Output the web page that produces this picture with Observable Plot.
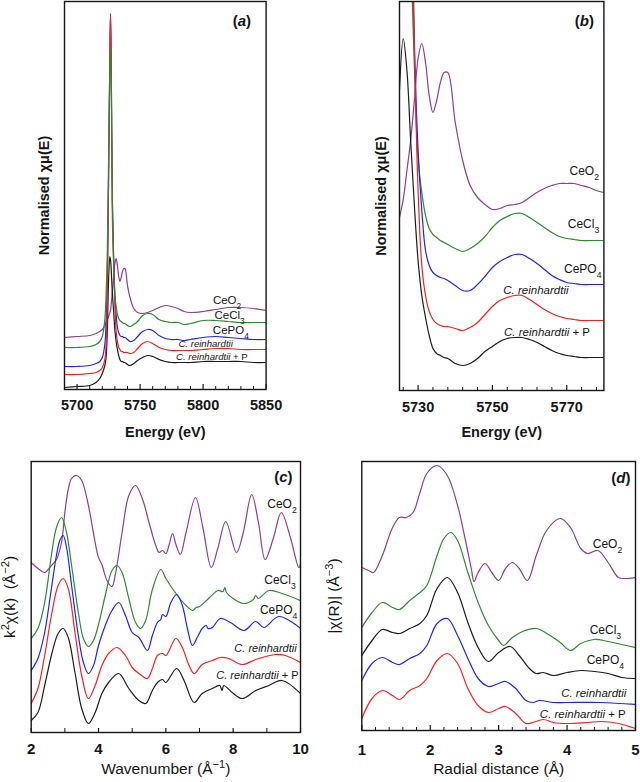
<!DOCTYPE html>
<html><head><meta charset="utf-8">
<script src="https://cdn.jsdelivr.net/npm/d3@7"></script>
<script src="https://cdn.jsdelivr.net/npm/@observablehq/plot@0.6"></script>
<style>
body{margin:0;background:#fff;}
#wrap{position:relative;width:640px;height:782px;overflow:hidden;background:#fff;}
</style></head><body><div id="wrap"></div>
<script>
// ---------- Panel (a): XANES, full range (arbitrary offset units) ----------
const energyA = [5690,5700,5710,5715,5718,5720,5722,5723,5724,5725,5726,5726.5,5727,5728,5729,5730,5731,5732,5733,5734,5735,5736,5737,5738,5740,5742,5745,5748,5752,5756,5760,5765,5770,5775,5780,5785,5790,5800,5810,5820,5830,5840,5850];
const ceo2A  = [52,53,54,56,58,60,64,67,70,73,77,79,84,98,112,126,131,124,113,108,112,118,121,121,104,92,81,77,76,77,79,82,84,83,81,78,77,78,80,82,82,81,79];
const cecl3A = [42,42,43,45,48,53,70,95,140,235,320,342,322,170,125,94,83,75,71,69,68,67,66,66,64,63,65,68,74,76,75,70,68,67,67,65,66,69,69,68,67,67,67];
const cepo4A = [23,23,24,26,28,32,45,66,110,215,335,376,340,190,132,95,75,62,57,54,53,53,52,52,50,48,49,53,58,60,59,54,51,50,50,49,50,52,53,52,51,50,50];
const crA    = [15,15,16,17,19,22,30,45,95,210,335,374,340,185,130,83,58,48,42,40,38,38,37,37,37,36,37,41,46,48,46,42,40,39,39,39,39,40,41,41,40,40,40];
const crpA   = [2,3,4,7,11,16,24,32,60,110,133,130,122,96,78,59,48,40,34,30,28,28,27,27,25,24,26,29,32,34,33,30,28,27,27,27,27,28,28,28,28,27,27];

// ---------- Panel (b): XANES, zoomed ----------
const energyB = [5725,5726,5727,5728,5729,5730,5731,5732,5733,5734,5735,5736,5737,5738,5740,5742,5744,5746,5748,5750,5752,5754,5756,5758,5760,5762,5764,5766,5768,5770,5772,5774,5776,5778,5780];
const ceo2B  = [173,191,220,250,290,332,347,328,295,278,290,308,318,318,268,230,205,193,186,181,182,185,186,188,193,198,202,205,207,207,207,205,203,200,198];
const cecl3B = [654,909,915,459,325,232,198,175,162,156,153,150,148,146,142,139,142,147,154,163,170,174,177,177,173,168,163,158,154,152,151,150,150,150,150];
const cepo4B = [690,1005,1005,555,350,240,180,140,125,118,115,113,112,110,105,100,100,106,114,123,129,133,136,136,132,127,121,115,111,108,107,106,106,106,106];
const crB    = [582,957,972,507,340,200,125,95,79,71,67,65,64,64,62,60,63,68,76,84,90,93,95,95,91,86,81,77,74,72,71,70,70,70,70];
const crpB   = [300,352,320,250,185,130,95,73,55,42,37,35,33,32,27,25,27,32,39,44,49,52,53,53,51,48,44,40,37,35,34,33,33,33,33];

// ---------- Panel (c): k^2-weighted EXAFS ----------
const ceo2K   = [2.0,2.2,2.4,2.6,2.75,2.9,3.0,3.1,3.2,3.35,3.5,3.7,3.9,4.0,4.1,4.25,4.4,4.5,4.7,4.9,5.1,5.3,5.5,5.7,5.8,5.9,6.0,6.1,6.2,6.3,6.43,6.6,6.88,7.1,7.35,7.55,7.78,8.1,8.3,8.55,8.75,8.95,9.2,9.43,9.7,9.95,10];
const ceo2Chi = [170,164,160,167,173,190,220,243,254,257,252,227,190,175,168,152,146,158,200,237,247,234,210,187,180,182,179,188,199,188,178,200,235,205,165,185,211,180,200,238,210,173,195,220,195,165,168];
const cecl3K   = [2.0,2.2,2.4,2.6,2.75,2.9,3.05,3.2,3.4,3.55,3.7,3.85,4.0,4.2,4.4,4.55,4.7,4.9,5.1,5.25,5.4,5.6,5.85,6.0,6.3,6.6,6.8,6.9,7.0,7.3,7.55,7.7,7.75,7.8,8.0,8.3,8.6,8.67,8.75,9.06,9.45,10];
const cecl3Chi = [94,104,130,177,205,215,200,167,120,94,86,92,108,137,162,167,160,134,110,104,112,143,163,154,139,127,122,125,126,135,142,141,145,140,134,129,133,137,134,142,139,132];
const cepo4K   = [2.0,2.2,2.4,2.6,2.75,2.85,2.95,3.05,3.2,3.4,3.55,3.7,3.85,4.0,4.2,4.4,4.6,4.8,5.0,5.2,5.45,5.6,5.75,5.85,5.9,6.0,6.15,6.32,6.49,6.64,6.79,6.93,7.08,7.2,7.25,7.38,7.62,7.92,8.32,8.67,8.91,9.36,10];
const cepo4Chi = [62,74,100,144,177,192,197,185,147,97,70,59,67,87,107,122,130,117,100,95,82,97,110,113,118,116,130,138,127,104,87,95,104,107,104,105,114,110,102,111,105,116,104];
const crK   = [2.0,2.2,2.4,2.6,2.8,2.95,3.1,3.3,3.5,3.7,3.9,4.1,4.3,4.55,4.8,5.0,5.2,5.45,5.6,5.75,5.9,6.0,6.3,6.49,6.69,6.84,7.08,7.38,7.62,7.87,8.27,8.67,9.26,9.55,10];
const crChi = [29,44,77,117,147,154,144,100,57,34,47,67,79,85,77,65,59,54,64,77,79,77,94,85,67,59,68,72,75,74,68,73,78,77,70];
const crpK   = [2.0,2.2,2.4,2.6,2.8,2.95,3.1,3.3,3.5,3.7,3.9,4.1,4.3,4.6,4.9,5.2,5.4,5.6,5.75,5.9,6.0,6.32,6.54,6.84,7.08,7.38,7.6,7.67,7.72,7.97,8.27,8.67,9.06,9.45,10];
const crpChi = [12,20,47,77,99,104,95,60,24,9,20,39,50,59,44,32,29,42,50,53,50,64,52,30,39,44,47,42,47,40,34,42,47,52,39];

// ---------- Panel (d): Fourier transform magnitude ----------
const ceo2R   = [1.0,1.1,1.17,1.3,1.45,1.55,1.65,1.75,1.85,1.95,2.1,2.25,2.4,2.5,2.6,2.64,2.7,2.8,2.9,3.0,3.1,3.2,3.3,3.42,3.55,3.7,3.9,4.05,4.2,4.3,4.45,4.6,4.75,4.85,5.0];
const ceo2Mag = [163,160,158,175,203,213,213,218,238,257,265,255,225,195,162,149,158,167,158,150,162,168,162,150,175,200,212,203,182,177,180,168,153,152,153];
const cecl3R   = [1.0,1.15,1.3,1.45,1.55,1.7,1.85,1.95,2.1,2.2,2.3,2.4,2.55,2.7,2.85,3.0,3.07,3.2,3.35,3.55,3.75,3.9,4.05,4.2,4.4,4.6,4.8,5.0];
const cecl3Mag = [103,118,128,123,121,130,138,145,175,192,198,190,158,128,105,90,85,93,99,102,95,88,80,87,91,89,86,83];
const blackR   = [1.0,1.15,1.3,1.45,1.55,1.7,1.85,1.95,2.1,2.25,2.4,2.55,2.7,2.85,3.0,3.17,3.3,3.45,3.55,3.65,3.8,4.0,4.2,4.4,4.6,4.8,5.0];
const blackMag = [75,90,101,98,97,102,107,115,142,153,138,108,83,69,78,84,75,62,57,58,55,58,60,59,57,53,52];
const blueR   = [1.0,1.15,1.3,1.45,1.55,1.7,1.85,1.95,2.1,2.25,2.4,2.55,2.7,2.85,3.0,3.1,3.25,3.4,3.5,3.6,3.8,4.0,4.5,5.0];
const blueMag = [50,67,73,68,66,72,77,85,107,112,95,72,52,44,47,49,42,30,28,30,28,28,28,26];
const redR   = [1.0,1.15,1.3,1.45,1.55,1.7,1.85,1.95,2.1,2.25,2.4,2.55,2.7,2.85,3.0,3.1,3.25,3.4,3.5,3.65,3.8,4.0,4.3,4.5,4.75,5.0];
const redMag = [12,32,40,35,31,40,45,52,70,77,67,42,25,18,22,24,17,7,8,11,8,7,8,9,7,2];

// ---------- Labels and ticks ----------
const seriesNames = ["CeO_{2}", "CeCl_{3}", "CePO_{4}", "/{C. reinhardtii}", "/{C. reinhardtii} + P"];
const labelA_x = [5819, 5821, 5822, 5802, 5807], labelA_y = [86, 71, 56, 43, 30];
const labelB_x = [5774.7, 5774.5, 5774.3, 5761.7, 5764.7], labelB_y = [216, 163, 118, 97, 55];
const labelC_x = [9.45, 9.39, 9.35, 8.96, 8.72], labelC_y = [225, 149, 119, 81, 54];
const labelD_x = [4.59, 4.56, 4.56, 4.39, 4.23], labelD_y = [183, 97, 67, 34, 13];

const ticksA = [5700, 5750, 5800, 5850];
const minorA = [5710,5720,5730,5740,5760,5770,5780,5790,5810,5820,5830,5840];
const ticksB = [5730, 5750, 5770];
const minorB = [5726,5734,5738,5742,5746,5754,5758,5762,5766,5774,5778];
const ticksC = [2, 4, 6, 8, 10];
const minorC = [3, 5, 7, 9];
const ticksD = [1, 2, 3, 4, 5];
const minorD = [1.2,1.4,1.6,1.8,2.2,2.4,2.6,2.8,3.2,3.4,3.6,3.8,4.2,4.4,4.6,4.8];

const C = {purple: "#8b3d98", green: "#2f8a2f", blue: "#1f24f2", red: "#f2221e", black: "#1b1b1b"};
const INK = "#151515";
const FONT = "Arial, 'Liberation Sans', Helvetica, sans-serif";

function mk(xs, ys) { return xs.map((x, i) => ({x, y: ys[i]})); }

function rich(svg) {
  svg.querySelectorAll("text").forEach(t => {
    const s = t.textContent;
    if (!/[_^\/]\{/.test(s)) return;
    t.innerHTML = s.replace(/([_^\/])\{([^}]*)\}/g, (m, op, inner) => {
      if (op === "_") return `<tspan baseline-shift="sub" font-size="0.72em">${inner}</tspan>`;
      if (op === "^") return `<tspan baseline-shift="super" font-size="0.72em">${inner}</tspan>`;
      return `<tspan font-style="italic">${inner}</tspan>`;
    });
  });
}

const wrap = document.getElementById("wrap");

function panel(c) {
  const fh = c.height - c.mt - c.mb;
  const marks = [];
  marks.push(Plot.ruleX(c.minor, {stroke: INK, strokeWidth: 1, insetTop: fh - c.minorLen}));
  marks.push(Plot.ruleX(c.major, {stroke: INK, strokeWidth: 1.2, insetTop: fh - c.majorLen}));
  for (const s of c.series) {
    marks.push(Plot.line(mk(s.x, s.y), {x: "x", y: "y", stroke: s.color, strokeWidth: 1.2, curve: "catmull-rom", clip: true}));
  }
  marks.push(Plot.frame({stroke: INK, strokeWidth: 1.4}));
  const lab = c.labels.x.map((x, i) => ({x, y: c.labels.y[i], t: seriesNames[i], i}));
  marks.push(Plot.text(lab.filter(d => d.i < 3), {x: "x", y: "y", text: "t", textAnchor: "middle", fontSize: c.labelSize, fontWeight: "normal", fill: INK, lineAnchor: "bottom"}));
  marks.push(Plot.text(lab.filter(d => d.i >= 3), {x: "x", y: "y", text: "t", textAnchor: "middle", fontSize: c.italicSize, fontWeight: "normal", fill: INK, lineAnchor: "bottom"}));
  marks.push(Plot.text([c.tag], {text: d => d, frameAnchor: "top-right", textAnchor: "end", lineAnchor: "bottom", dx: c.tagDx, dy: c.tagDy, fontSize: 15, fontWeight: "bold", fill: INK}));
  marks.push(Plot.text([c.xLabel], {text: d => d, frameAnchor: "bottom", textAnchor: "middle", lineAnchor: "bottom", dy: c.xLabelDy, fontSize: c.xLabelSize, fontWeight: c.xLabelWeight, fill: INK}));
  marks.push(Plot.text([c.yLabel], {text: d => d, frameAnchor: "left", textAnchor: "middle", rotate: -90, lineAnchor: "bottom", dx: c.yLabelDx, fontSize: c.yLabelSize, fontWeight: c.yLabelWeight, fill: INK}));
  const svg = Plot.plot({
    width: c.width, height: c.height,
    marginLeft: c.ml, marginRight: c.mr, marginTop: c.mt, marginBottom: c.mb,
    x: {domain: c.xDomain, ticks: c.major, tickSize: 0, tickPadding: c.tickPad, tickFormat: d3.format("d"), label: null},
    y: {domain: c.yDomain, axis: null},
    style: {fontFamily: FONT, fontSize: c.tickFont + "px", fontWeight: "bold", color: INK, background: "transparent", position: "absolute", left: c.left + "px", top: c.top + "px", overflow: "visible"},
    marks
  });
  rich(svg);
  wrap.appendChild(svg);
}

panel({
  left: 0, top: 0, width: 320, height: 445, ml: 64, mr: 54.4, mt: 1, mb: 56,
  xDomain: [5690, 5850], yDomain: [0, 388],
  major: ticksA, minor: minorA, majorLen: 5, minorLen: 3, tickPad: 10, tickFont: 14.5,
  series: [
    {x: energyA, y: ceo2A, color: C.purple},
    {x: energyA, y: crpA, color: C.black},
    {x: energyA, y: cepo4A, color: C.blue},
    {x: energyA, y: crA, color: C.red},
    {x: energyA, y: cecl3A, color: C.green}
  ],
  labels: {x: labelA_x, y: labelA_y}, labelSize: 11.5, italicSize: 9.6,
  tag: "(/{a})", tagDx: -15, tagDy: 24,
  xLabel: "Energy (eV)", xLabelDy: 47, xLabelSize: 14.5, xLabelWeight: "bold",
  yLabel: "Normalised χμ(E)", yLabelDx: -15.3, yLabelSize: 14.5, yLabelWeight: "bold"
});

panel({
  left: 320, top: 0, width: 320, height: 445, ml: 79, mr: 36.6, mt: 1, mb: 55,
  xDomain: [5725, 5780], yDomain: [0, 389],
  major: ticksB, minor: minorB, majorLen: 5, minorLen: 3, tickPad: 11, tickFont: 14.5,
  series: [
    {x: energyB, y: ceo2B, color: C.purple},
    {x: energyB, y: crpB, color: C.black},
    {x: energyB, y: cecl3B, color: C.green},
    {x: energyB, y: cepo4B, color: C.blue},
    {x: energyB, y: crB, color: C.red}
  ],
  labels: {x: labelB_x, y: labelB_y}, labelSize: 12, italicSize: 11.5,
  tag: "(/{b})", tagDx: -10, tagDy: 24,
  xLabel: "Energy (eV)", xLabelDy: 46, xLabelSize: 14.5, xLabelWeight: "bold",
  yLabel: "Normalised χμ(E)", yLabelDx: -13.5, yLabelSize: 14.5, yLabelWeight: "bold"
});

panel({
  left: 0, top: 445, width: 320, height: 337, ml: 30.7, mr: 20, mt: 16, mb: 50,
  xDomain: [2, 10], yDomain: [0, 271],
  major: ticksC, minor: minorC, majorLen: 4, minorLen: 4, tickPad: 11, tickFont: 15,
  series: [
    {x: ceo2K, y: ceo2Chi, color: C.purple},
    {x: cecl3K, y: cecl3Chi, color: C.green},
    {x: cepo4K, y: cepo4Chi, color: C.blue},
    {x: crK, y: crChi, color: C.red},
    {x: crpK, y: crpChi, color: C.black}
  ],
  labels: {x: labelC_x, y: labelC_y}, labelSize: 12, italicSize: 11,
  tag: "(/{c})", tagDx: -8, tagDy: 20.5,
  xLabel: "Wavenumber (Å^{−1})", xLabelDy: 41, xLabelSize: 15.5, xLabelWeight: "normal",
  yLabel: "k^{2}χ(k)  (Å^{−2})", yLabelDx: -16.7, yLabelSize: 15.5, yLabelWeight: "normal"
});

panel({
  left: 320, top: 445, width: 320, height: 337, ml: 41.3, mr: 5, mt: 16, mb: 52,
  xDomain: [1, 5], yDomain: [0, 269],
  major: ticksD, minor: minorD, majorLen: 5, minorLen: 3, tickPad: 14, tickFont: 15,
  series: [
    {x: ceo2R, y: ceo2Mag, color: C.purple},
    {x: cecl3R, y: cecl3Mag, color: C.green},
    {x: blackR, y: blackMag, color: C.black},
    {x: blueR, y: blueMag, color: C.blue},
    {x: redR, y: redMag, color: C.red}
  ],
  labels: {x: labelD_x, y: labelD_y}, labelSize: 12, italicSize: 11.5,
  tag: "(/{d})", tagDx: -5, tagDy: 21,
  xLabel: "Radial distance (Å)", xLabelDy: 43, xLabelSize: 15.5, xLabelWeight: "normal",
  yLabel: "|χ(R)| (Å^{−3})", yLabelDx: -23.3, yLabelSize: 15.5, yLabelWeight: "normal"
});
</script>
</body></html>
